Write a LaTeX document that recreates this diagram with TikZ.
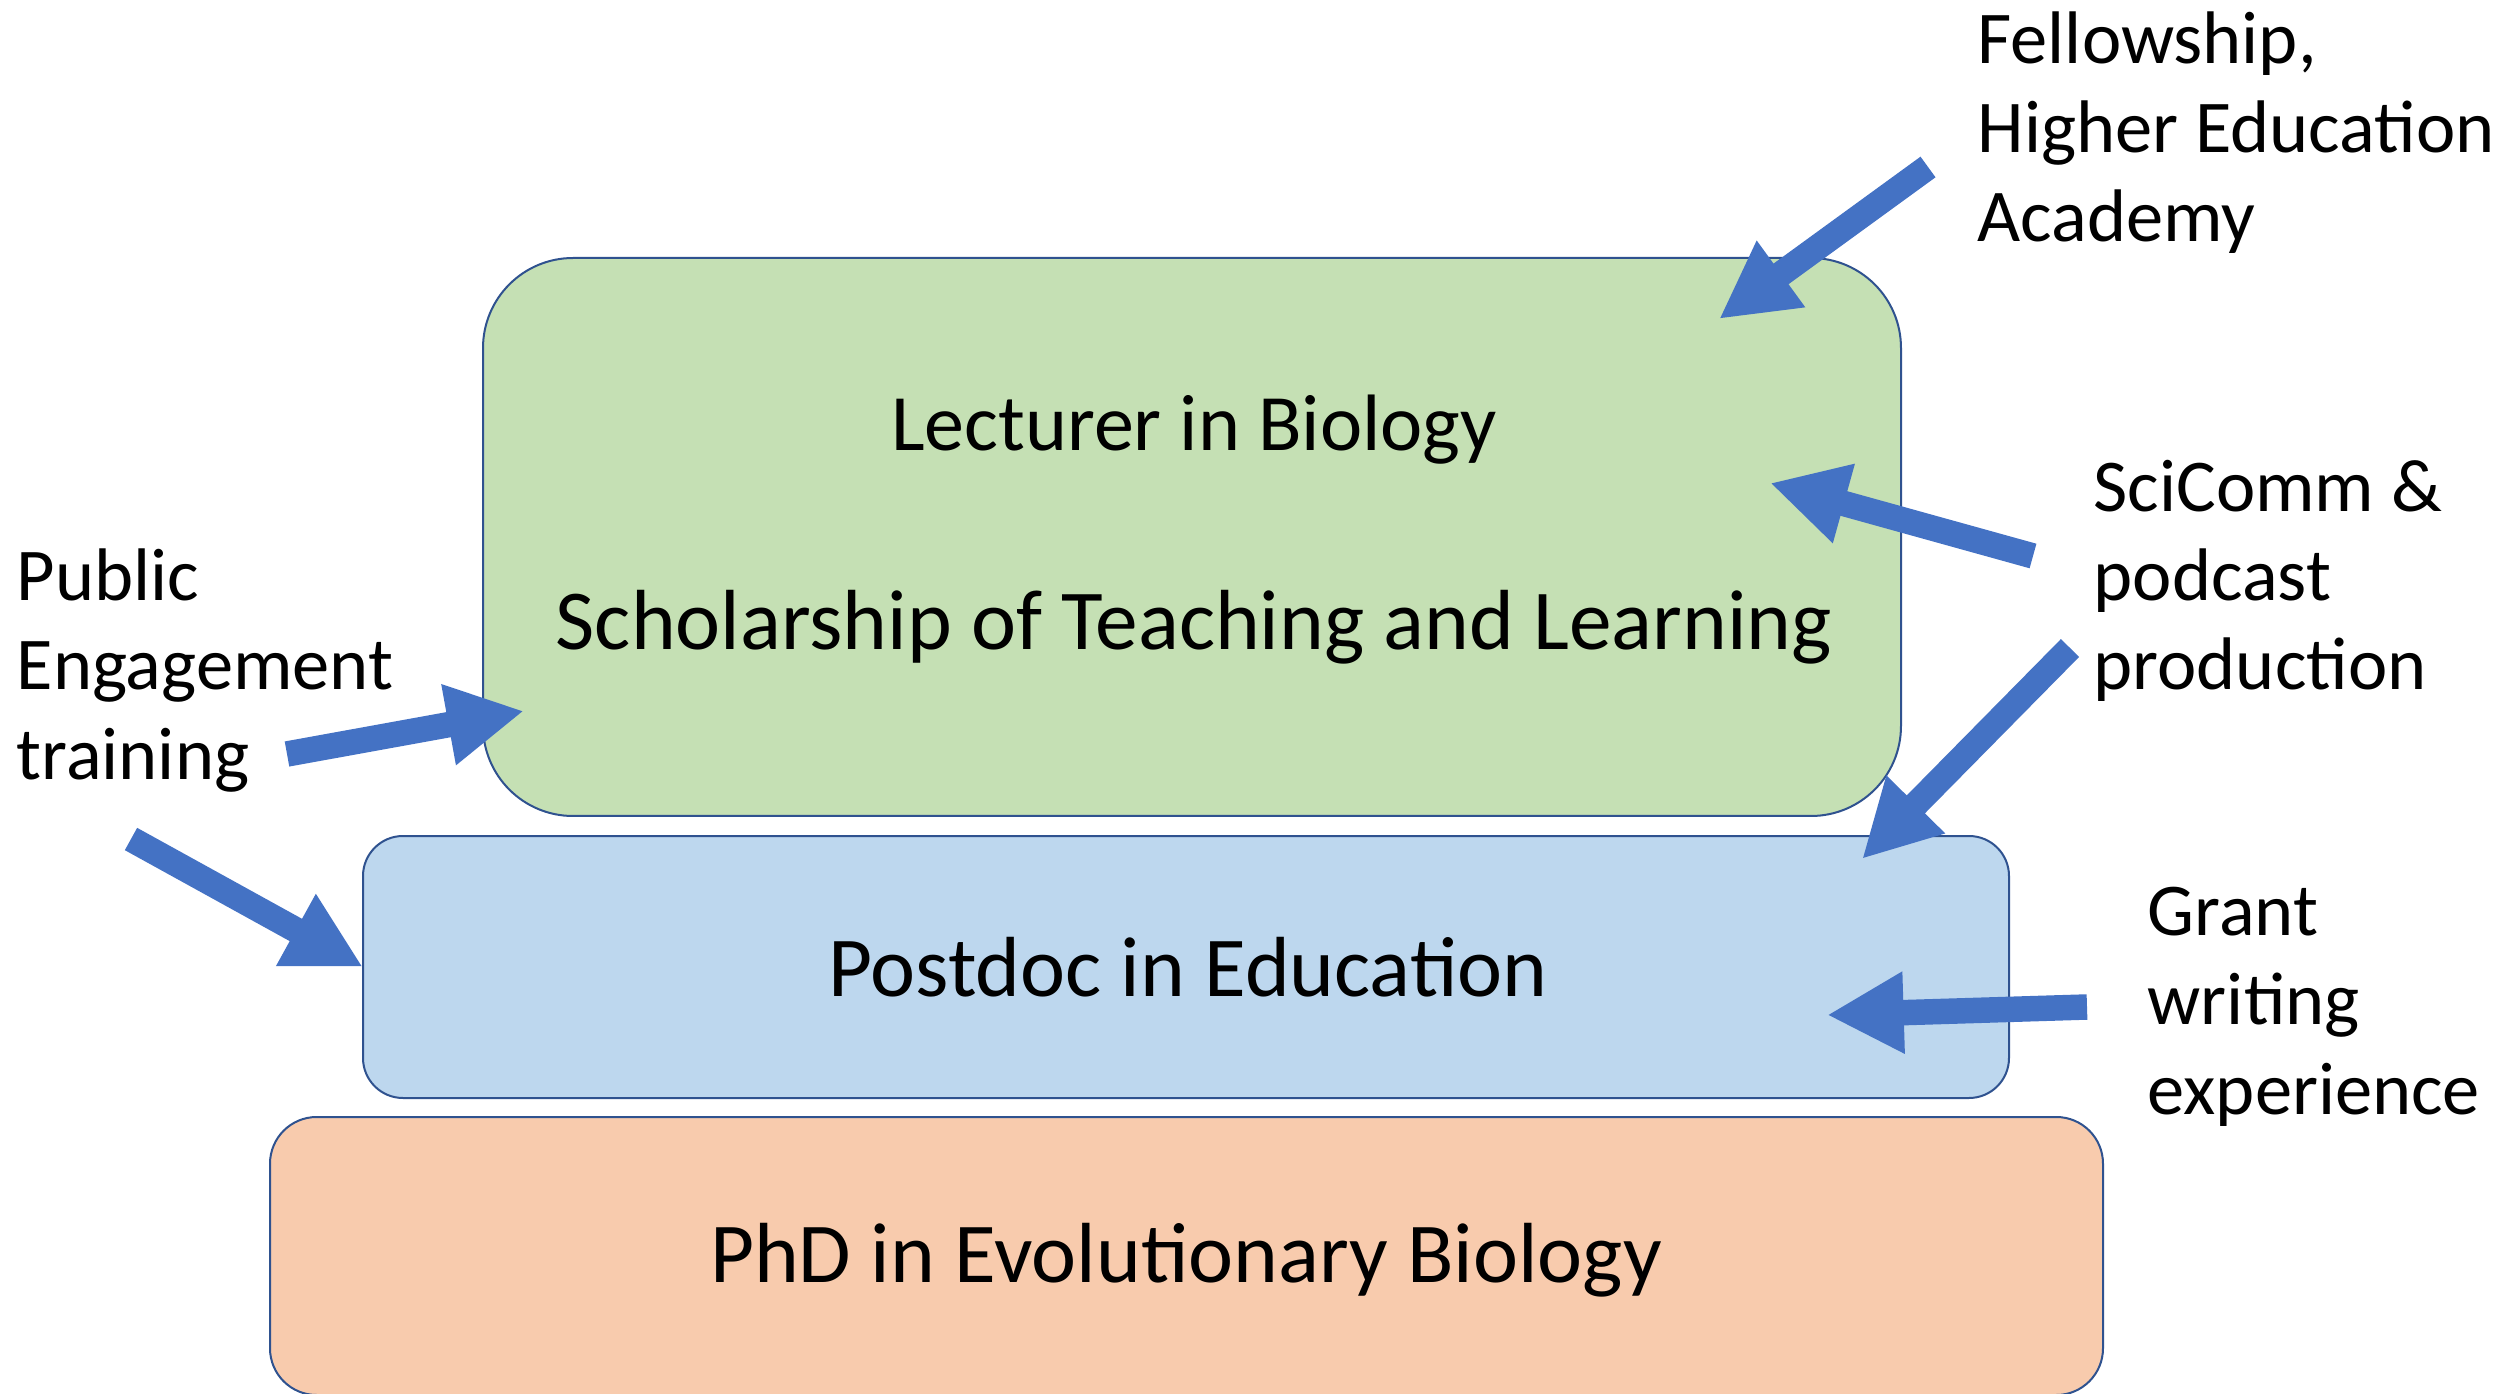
\documentclass[tikz,border=0pt]{standalone}
\usepackage{fontspec}
\setmainfont{Carlito}
\usetikzlibrary{arrows.meta}
\definecolor{greenfill}{HTML}{C5E0B4}
\definecolor{bluefill}{HTML}{BDD7EE}
\definecolor{orangefill}{HTML}{F8CBAD}
\definecolor{boxline}{HTML}{2F528F}
\definecolor{arrowblue}{HTML}{4472C4}
\begin{document}
\begin{tikzpicture}[x=0.3pt,y=-0.3pt,
  box/.style={draw=boxline, line width=0.6pt, inner sep=0pt, outer sep=0pt},
  boxtext/.style={font=\fontsize{25.6}{31}\selectfont, anchor=base, inner sep=0pt},
  sidetext/.style={font=\fontsize{22.35}{26.75}\selectfont, anchor=base west, align=left, inner sep=0pt},
  bigarrow/.style={draw=arrowblue, line width=7.65pt, -{Triangle[length=23pt,width=23pt]}},
]
\useasboundingbox (0,0) rectangle (2498,1394);
% boxes
\node[box, fill=greenfill, rounded corners=27pt, minimum width=425.4pt, minimum height=167.4pt] (lect) at (1192,537) {};
\node[box, fill=bluefill, rounded corners=12pt, minimum width=493.8pt, minimum height=78.6pt] (post) at (1186,967) {};
\node[box, fill=orangefill, rounded corners=14pt, minimum width=549.9pt, minimum height=83.4pt] (phd) at (1186.5,1256) {};
% box texts
\node[boxtext, font=\fontsize{24}{29}\selectfont] (t1) at (1194,451) {Lecturer in Biology};
\node[boxtext] (t2) at (1194,650) {Scholarship of Teaching and Learning};
\node[boxtext] (t3) at (1188,996) {Postdoc in Education};
\node[boxtext] (t4) at (1186,1282) {PhD in Evolutionary Biology};
% side labels (anchor at baseline of last line)
\node[sidetext] (fellow) at (1977,242) {Fellowship,\\Higher Education\\Academy};
\node[sidetext] (scicomm) at (2093,690) {SciComm \&\\podcast\\production};
\node[sidetext] (public) at (16,779) {Public\\Engagement\\training};
\node[sidetext] (grant) at (2147,1114) {Grant\\writing\\experience};
% arrow ends
\coordinate (aA) at (1928,167); \coordinate (bA) at (1719,319);
\coordinate (aB) at (2033,556); \coordinate (bB) at (1770,483);
\coordinate (aC) at (2070,648); \coordinate (bC) at (1862,859);
\coordinate (aD) at (2087,1007); \coordinate (bD) at (1827,1015);
\coordinate (aE) at (287,754); \coordinate (bE) at (524,711);
\coordinate (aF) at (131,839); \coordinate (bF) at (363,967);
\draw[bigarrow] (aA) -- (bA);
\draw[bigarrow] (aB) -- (bB);
\draw[bigarrow] (aC) -- (bC);
\draw[bigarrow] (aD) -- (bD);
\draw[bigarrow] (aE) -- (bE);
\draw[bigarrow] (aF) -- (bF);
\end{tikzpicture}
\end{document}
